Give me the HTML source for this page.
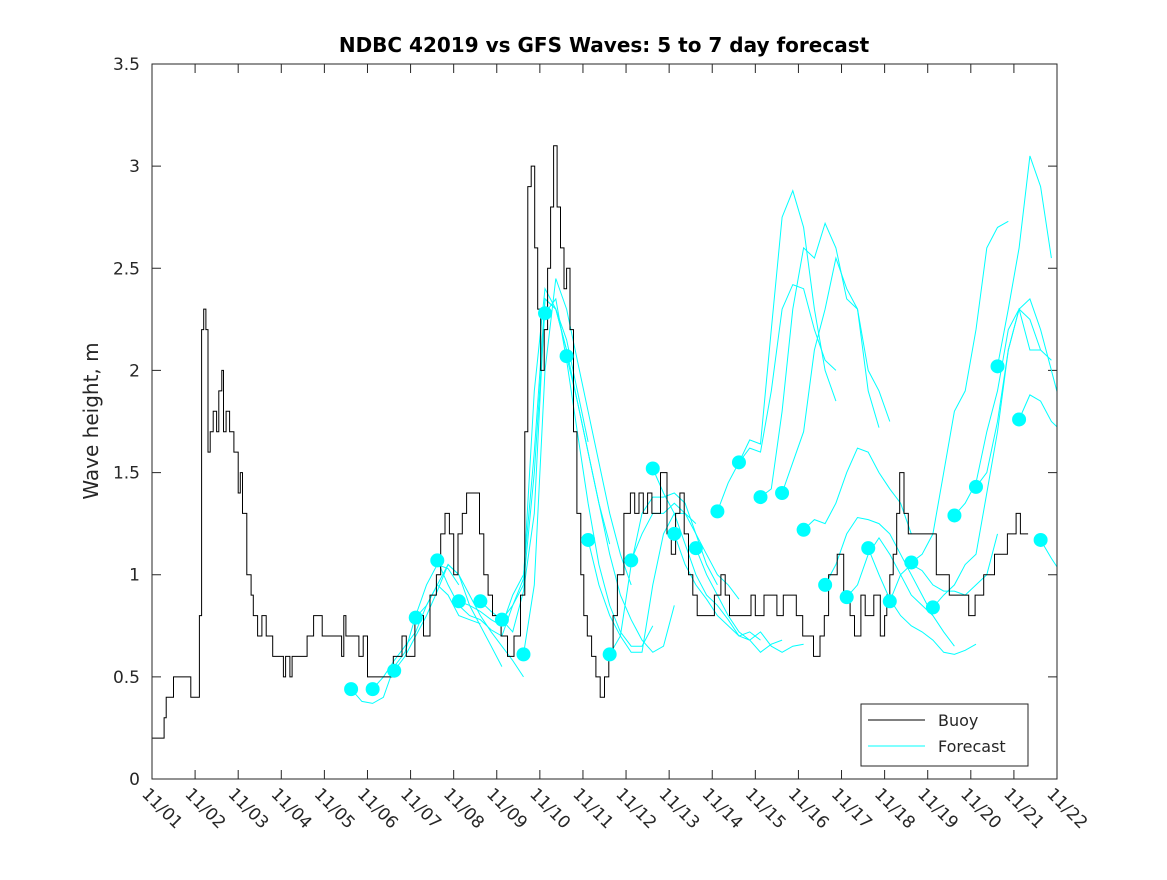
<!DOCTYPE html>
<html><head><meta charset="utf-8"><style>
body{margin:0;background:#fff;}
svg text{font-family:"DejaVu Sans","Liberation Sans",sans-serif;fill:#262626;}
</style></head><body>
<svg id="chart" width="1167" height="875" xmlns="http://www.w3.org/2000/svg">
<defs><clipPath id="plotclip"><rect x="152" y="64" width="905" height="715"/></clipPath></defs>
<rect width="1167" height="875" fill="#fff"/>
<text x="604" y="52" text-anchor="middle" font-size="20" font-weight="bold" style="fill:#000">NDBC 42019 vs GFS Waves: 5 to 7 day forecast</text>
<text transform="translate(98,421) rotate(-90)" text-anchor="middle" font-size="20">Wave height, m</text>
<g id="ticks"></g>
<g id="series" clip-path="url(#plotclip)"></g>
<rect x="152" y="64" width="905" height="715" fill="none" stroke="#262626" stroke-width="1"/>
<g>
<rect x="861" y="704" width="167" height="62" fill="#fff" stroke="#262626"/>
<line x1="868" y1="720" x2="925" y2="720" stroke="#000"/>
<text x="938" y="726" font-size="16">Buoy</text>
<line x1="868" y1="746" x2="925" y2="746" stroke="#00ffff"/>
<text x="938" y="752" font-size="16">Forecast</text>
</g>
</svg>
<script>
const yTicks=[0,0.5,1,1.5,2,2.5,3,3.5];
const yTickLabels=["0","0.5","1","1.5","2","2.5","3","3.5"];
const xTickLabels=["11/01","11/02","11/03","11/04","11/05","11/06","11/07","11/08","11/09","11/10","11/11","11/12","11/13","11/14","11/15","11/16","11/17","11/18","11/19","11/20","11/21","11/22"];
// buoy step series: [day since 11/01, height m]
const buoyDays=[0,0.28,0.33,0.4,0.5,0.6,0.65,0.9,0.95,1.1,1.15,1.2,1.25,1.3,1.35,1.42,1.5,1.55,1.62,1.66,1.72,1.8,1.9,2.0,2.05,2.1,2.2,2.3,2.35,2.45,2.55,2.65,2.8,3.0,3.05,3.1,3.2,3.25,3.35,3.6,3.75,3.95,4.3,4.4,4.45,4.5,4.8,4.9,5.0,5.5,5.6,5.8,5.9,6.1,6.3,6.45,6.6,6.7,6.8,6.9,7.0,7.1,7.2,7.3,7.5,7.6,7.7,7.8,7.9,8.1,8.25,8.4,8.55,8.65,8.72,8.8,8.88,8.95,9.02,9.1,9.18,9.25,9.32,9.4,9.48,9.56,9.62,9.7,9.78,9.86,9.95,10.02,10.1,10.2,10.3,10.4,10.5,10.6,10.7,10.8,10.95,11.1,11.2,11.3,11.4,11.5,11.6,11.8,11.95,12.05,12.15,12.25,12.35,12.45,12.55,12.65,12.95,13.05,13.2,13.3,13.4,13.9,14.0,14.2,14.5,14.65,14.95,15.1,15.35,15.5,15.6,15.7,15.9,16.05,16.2,16.3,16.45,16.55,16.75,16.9,17.0,17.05,17.12,17.2,17.28,17.35,17.45,17.55,18.2,18.5,18.75,18.95,19.1,19.3,19.55,19.75,19.85,20.05,20.15,20.33];
const buoyVals=[0.2,0.3,0.4,0.4,0.5,0.5,0.5,0.4,0.4,0.8,2.2,2.3,2.2,1.6,1.7,1.8,1.7,1.9,2.0,1.7,1.8,1.7,1.6,1.4,1.5,1.3,1.0,0.9,0.8,0.7,0.8,0.7,0.6,0.6,0.5,0.6,0.5,0.6,0.6,0.7,0.8,0.7,0.7,0.6,0.8,0.7,0.6,0.7,0.5,0.5,0.6,0.7,0.6,0.8,0.7,0.9,1.0,1.2,1.3,1.2,1.0,1.2,1.3,1.4,1.4,1.2,1.0,0.9,0.8,0.7,0.6,0.7,0.9,1.7,2.9,3.0,2.6,2.3,2.0,2.2,2.5,2.8,3.1,2.8,2.6,2.4,2.5,2.2,1.7,1.3,1.0,0.8,0.7,0.6,0.5,0.4,0.5,0.6,0.8,1.0,1.3,1.4,1.3,1.4,1.3,1.4,1.3,1.5,1.2,1.1,1.3,1.4,1.2,1.0,0.9,0.8,0.8,0.9,1.0,0.9,0.8,0.9,0.8,0.9,0.8,0.9,0.8,0.7,0.6,0.7,0.8,1.0,1.1,0.9,0.8,0.7,0.9,0.8,0.9,0.7,0.8,0.9,1.0,1.1,1.3,1.5,1.3,1.2,1.0,0.9,0.9,0.8,0.9,1.0,1.1,1.1,1.2,1.3,1.2,1.2,1.1];
// forecast runs: start day, values at 0.25-day steps
const fcStarts=[4.62,5.12,5.62,6.12,6.62,7.12,7.62,8.12,8.62,9.12,9.62,10.12,10.62,11.12,11.62,12.12,12.62,13.12,13.62,14.12,14.62,15.12,15.62,16.12,16.62,17.12,17.62,18.12,18.62,19.12,19.62,20.12,20.62];
const fc0=[0.44,0.38,0.37,0.40,0.55,0.62,0.80,0.95,1.05,1.03,0.95];
const fc1=[0.44,0.50,0.58,0.65,0.72,0.85,0.95,0.90,0.80,0.78,0.76];
const fc2=[0.53,0.60,0.70,0.80,0.92,1.05,1.00,0.85,0.75,0.65,0.55];
const fc3=[0.79,0.85,0.95,1.05,1.00,0.90,0.80,0.72,0.65,0.58,0.50];
const fc4=[1.07,0.95,0.85,0.80,0.78,0.73,0.70,0.85,0.95,1.50,2.30];
const fc5=[0.87,0.85,0.82,0.78,0.75,0.90,1.00,1.60,2.35,2.30,2.10];
const fc6=[0.87,0.82,0.78,0.72,0.92,1.30,2.35,2.30,2.15,1.90,1.65];
const fc7=[0.78,0.85,0.98,1.90,2.40,2.30,2.10,1.85,1.60,1.35,1.15];
const fc8=[0.61,0.95,2.00,2.45,2.30,2.05,1.80,1.55,1.30,1.10,0.95];
const fc9=[2.28,2.35,2.05,1.70,1.35,1.05,0.85,0.72,0.65,0.65,0.75];
const fc10=[2.07,1.85,1.60,1.35,1.10,0.90,0.78,0.68,0.62,0.65,0.85];
const fc11=[1.17,0.95,0.80,0.70,0.62,0.62,0.95,1.20,1.30,1.30,1.25];
const fc12=[0.61,0.70,1.05,1.30,1.38,1.38,1.40,1.35,1.20,1.05,0.95];
const fc13=[1.07,1.20,1.30,1.30,1.35,1.30,1.20,1.10,1.00,0.95,0.88];
const fc14=[1.52,1.40,1.30,1.15,1.00,0.90,0.85,0.78,0.70,0.72,0.68];
const fc15=[1.20,1.05,0.95,0.88,0.80,0.75,0.70,0.68,0.62,0.66,0.68];
const fc16=[1.13,1.00,0.90,0.80,0.72,0.68,0.72,0.65,0.62,0.65,0.66];
const fc17=[1.31,1.45,1.55,1.66,1.64,2.20,2.75,2.88,2.70,2.30,2.00,1.85];
const fc18=[1.55,1.62,1.60,1.90,2.30,2.42,2.40,2.20,2.05,2.00];
const fc19=[1.38,1.42,1.80,2.30,2.60,2.55,2.72,2.60,2.35,2.30,1.90,1.72];
const fc20=[1.40,1.55,1.70,2.10,2.30,2.55,2.40,2.30,2.00,1.90,1.75];
const fc21=[1.22,1.27,1.25,1.35,1.50,1.62,1.60,1.50,1.42,1.35,1.20];
const fc22=[0.95,1.05,1.20,1.28,1.27,1.25,1.20,1.10,1.00,0.90,0.80];
const fc23=[0.89,0.95,1.10,1.18,1.10,1.00,0.90,0.85,0.80,0.72,0.65];
const fc24=[1.13,1.00,0.88,0.80,0.75,0.72,0.68,0.62,0.61,0.63,0.66];
const fc25=[0.87,1.00,1.05,1.02,0.95,0.92,0.92,0.90,0.95,1.00,1.20];
const fc26=[1.06,1.10,1.20,1.50,1.80,1.90,2.20,2.60,2.70,2.73];
const fc27=[0.84,0.90,0.95,1.05,1.10,1.40,1.70,2.10,2.30,2.25,2.10];
const fc28=[1.29,1.35,1.45,1.70,1.90,2.20,2.30,2.10,2.10,2.05];
const fc29=[1.43,1.50,1.75,2.10,2.30,2.35,2.20,2.00,1.80,1.60,1.50];
const fc30=[2.02,2.30,2.60,3.05,2.90,2.55];
const fc31=[1.76,1.88,1.85,1.75,1.70,1.60,1.50];
const fc32=[1.17,1.08,1.00];
const fcVals=[fc0,fc1,fc2,fc3,fc4,fc5,fc6,fc7,fc8,fc9,fc10,fc11,fc12,fc13,fc14,fc15,fc16,fc17,fc18,fc19,fc20,fc21,fc22,fc23,fc24,fc25,fc26,fc27,fc28,fc29,fc30,fc31,fc32];

const NS="http://www.w3.org/2000/svg";
const X0=152,X1=1057,Y0=779,Y1=64;
function xs(d){return X0+d*(X1-X0)/21;}
function ys(v){return Y0-v*(Y0-Y1)/3.5;}
function mk(tag,attrs,parent){const e=document.createElementNS(NS,tag);for(const k in attrs)e.setAttribute(k,attrs[k]);parent.appendChild(e);return e;}
const tg=document.getElementById('ticks');
yTicks.forEach((v,i)=>{
  const y=ys(v);
  const t=mk('path',{d:`M${X0},${y}h9M${X1},${y}h-9`,stroke:'#262626'},tg);
  
  
  const l=mk('text',{x:X0-12,y:y+6,'text-anchor':'end','font-size':'17'},tg);
  
  
  l.textContent=yTickLabels[i];
});
xTickLabels.forEach((s,i)=>{
  const x=xs(i);
  const t=mk('path',{d:`M${x},${Y0}v-9M${x},${Y1}v9`,stroke:'#262626'},tg);
  
  
  const l=mk('text',{transform:`translate(${x-11},${Y0+16}) rotate(45)`,'font-size':'17'},tg);
  
  
  l.textContent=s;
});
const sg=document.getElementById('series');
fcVals.forEach((arr,i)=>{
  const st=fcStarts[i];
  const pts=arr.map((v,k)=>xs(st+k*0.25).toFixed(1)+','+ys(v).toFixed(1)).join(' ');
  const p=mk('polyline',{points:pts,fill:'none',stroke:'#00ffff','stroke-width':'1'},sg);
  
  
});
let d='';
buoyDays.forEach((day,i)=>{
  const x=xs(day).toFixed(1),y=ys(buoyVals[i]).toFixed(1);
  d+= i===0?`M${x},${y}`:`H${x}V${y}`;
});
const bp=mk('path',{d:d,fill:'none',stroke:'#000','stroke-width':'1'},sg);


fcVals.forEach((arr,i)=>{
  const c=mk('circle',{cx:xs(fcStarts[i]),cy:ys(arr[0]),r:7,fill:'#00ffff'},sg);
  
  
});
</script>
</body></html>
